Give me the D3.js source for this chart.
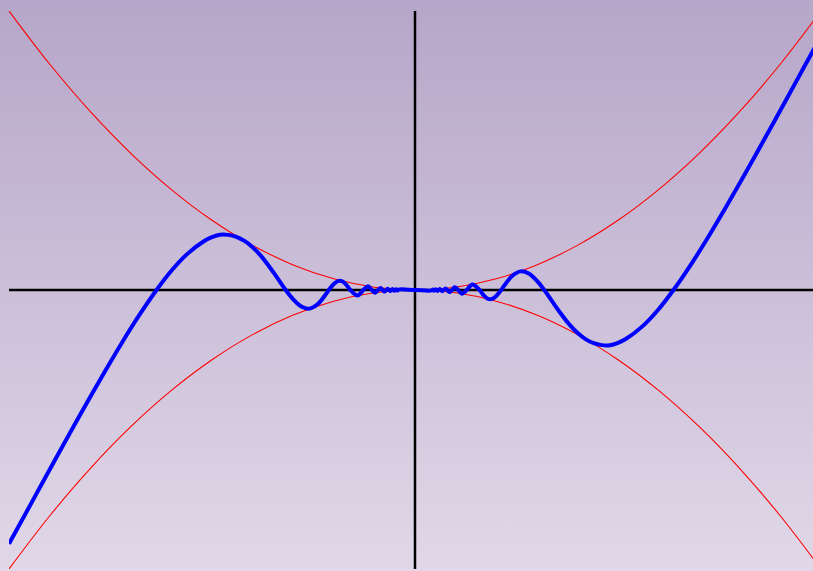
<!DOCTYPE html>
<html>
<head>
<meta charset="utf-8">
<script src="https://cdn.jsdelivr.net/npm/d3@7"></script>
<style>
  html, body { margin: 0; padding: 0; overflow: hidden; }
  svg { display: block; }
</style>
</head>
<body>
<svg id="chart" width="813" height="571"></svg>
<script>
// Curva azul: x^2 sin(1/x)
const blueX = [
  -0.50, -0.48, -0.46, -0.44, -0.42, -0.40, -0.38, -0.36, -0.34, -0.3183,
  -0.30, -0.28, -0.26, -0.25, -0.24, -0.23, -0.22, -0.21, -0.20, -0.19,
  -0.18, -0.17, -0.1592, -0.15, -0.14, -0.13, -0.12, -0.11, -0.1061, -0.10,
  -0.095, -0.09, -0.085, -0.0796, -0.0707, -0.0637, -0.0579, -0.0531, -0.0490, -0.0455,
  -0.0424, -0.0398, -0.0375, -0.0354, -0.0335, -0.0318, -0.0303, -0.0277, -0.0255, -0.0236,
  -0.0220, -0.0205, 0,
  0.0205, 0.0220, 0.0236, 0.0255, 0.0277, 0.0303, 0.0318, 0.0335, 0.0354, 0.0375,
  0.0398, 0.0424, 0.0455, 0.0490, 0.0531, 0.0579, 0.0637, 0.0707, 0.0796, 0.085,
  0.09, 0.095, 0.10, 0.1061, 0.11, 0.12, 0.13, 0.14, 0.15, 0.1592,
  0.17, 0.18, 0.19, 0.20, 0.21, 0.22, 0.23, 0.24, 0.25, 0.26,
  0.28, 0.30, 0.3183, 0.34, 0.36, 0.38, 0.40, 0.42, 0.44, 0.46,
  0.48, 0.50
];
const blueY = [
  -0.2273, -0.2009, -0.1743, -0.1479, -0.1217, -0.0958, -0.0706, -0.0461, -0.0230, 0,
  0.0172, 0.0326, 0.0437, 0.0473, 0.0495, 0.0494, 0.0477, 0.0440, 0.0384, 0.0308,
  0.0215, 0.0113, 0, -0.0084, -0.0148, -0.0167, -0.0128, -0.0040, 0, 0.0054,
  0.0080, 0.0080, 0.0051, 0, -0.0050, 0, 0.0034, 0, -0.0024, 0,
  0.0018, 0, -0.0014, 0, 0.0011, 0, -0.0009, 0.0008, -0.0007, 0.0006,
  -0.0005, 0.0004, 0,
  -0.0004, 0.0005, -0.0006, 0.0007, -0.0008, 0.0009, 0, -0.0011, 0, 0.0014,
  0, -0.0018, 0, 0.0024, 0, -0.0034, 0, 0.0050, 0, -0.0051,
  -0.0080, -0.0080, -0.0054, 0, 0.0040, 0.0128, 0.0167, 0.0148, 0.0084, 0,
  -0.0113, -0.0215, -0.0308, -0.0384, -0.0440, -0.0477, -0.0494, -0.0495, -0.0473, -0.0437,
  -0.0326, -0.0172, 0, 0.0230, 0.0461, 0.0706, 0.0958, 0.1217, 0.1479, 0.1743,
  0.2009, 0.2273
];

// Envolventes rojas ±x^2
const redX = [-0.50, -0.45, -0.40, -0.35, -0.30, -0.25, -0.20, -0.15, -0.10, -0.05, 0,
              0.05, 0.10, 0.15, 0.20, 0.25, 0.30, 0.35, 0.40, 0.45, 0.50];
const redUpper = [0.25, 0.2025, 0.16, 0.1225, 0.09, 0.0625, 0.04, 0.0225, 0.01, 0.0025, 0,
                  0.0025, 0.01, 0.0225, 0.04, 0.0625, 0.09, 0.1225, 0.16, 0.2025, 0.25];
const redLower = [-0.25, -0.2025, -0.16, -0.1225, -0.09, -0.0625, -0.04, -0.0225, -0.01, -0.0025, 0,
                  -0.0025, -0.01, -0.0225, -0.04, -0.0625, -0.09, -0.1225, -0.16, -0.2025, -0.25];

const svg = d3.select("#chart");
const width = +svg.attr("width");
const height = +svg.attr("height");
const margin = {top: 11, left: 9};
const plotW = 812, plotH = 558;

// Fondo degradado
const defs = svg.append("defs");
const grad = defs.append("linearGradient")
  .attr("id", "fondo").attr("x1", 0).attr("y1", 0).attr("x2", 0).attr("y2", 1);
grad.append("stop").attr("offset", "0%").attr("stop-color", "#b6a6c9");
grad.append("stop").attr("offset", "100%").attr("stop-color", "#e0d8e8");
svg.append("rect").attr("width", width).attr("height", height).attr("fill", "url(#fondo)");

defs.append("clipPath").attr("id", "clip")
  .append("rect").attr("x", margin.left).attr("y", margin.top)
  .attr("width", plotW).attr("height", plotH);

const x = d3.scaleLinear().domain([-0.5, 0.5]).range([margin.left, margin.left + plotW]);
const y = d3.scaleLinear().domain([-0.25, 0.25]).range([margin.top + plotH, margin.top]);

const g = svg.append("g").attr("clip-path", "url(#clip)");

// Ejes
g.append("line")
  .attr("x1", x(-0.5)).attr("x2", x(0.5)).attr("y1", y(0)).attr("y2", y(0))
  .attr("stroke", "#000").attr("stroke-width", 2.5);
g.append("line")
  .attr("x1", x(0)).attr("x2", x(0)).attr("y1", y(0.25)).attr("y2", y(-0.25))
  .attr("stroke", "#000").attr("stroke-width", 2.5);

const redLine = d3.line().x((d, i) => x(redX[i])).y(d => y(d)).curve(d3.curveCatmullRom);
[redUpper, redLower].forEach(serie => {
  g.append("path")
    .datum(serie)
    .attr("fill", "none")
    .attr("stroke", "#ff0000")
    .attr("stroke-width", 1.1)
    .attr("d", redLine);
});

const blueLine = d3.line().x((d, i) => x(blueX[i])).y(d => y(d)).curve(d3.curveCatmullRom);
g.append("path")
  .datum(blueY)
  .attr("fill", "none")
  .attr("stroke", "#0000ff")
  .attr("stroke-width", 4)
  .attr("stroke-linejoin", "round")
  .attr("d", blueLine);
</script>
</body>
</html>
